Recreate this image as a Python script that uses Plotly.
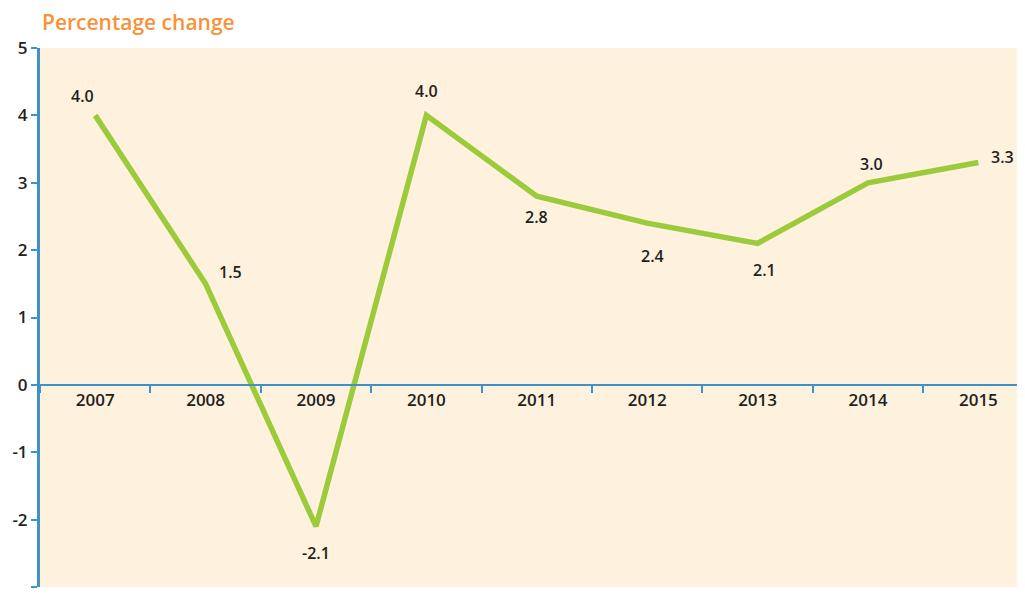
import plotly.graph_objects as go

years = ["2007", "2008", "2009", "2010", "2011", "2012", "2013", "2014", "2015"]
change = [4.0, 1.5, -2.1, 4.0, 2.8, 2.4, 2.1, 3.0, 3.3]
value_labels = ["4.0", "1.5", "-2.1", "4.0", "2.8", "2.4", "2.1", "3.0", "3.3"]
y_ticks = [-3, -2, -1, 0, 1, 2, 3, 4, 5]
y_tick_text = ["-3", "-2", "-1", "0", "1", "2", "3", "4", "5"]

# label offsets (px) relative to each point
label_dx = [-13, 25, 0, 0, 0, 5, 7, 4, 24]
label_dy = [19, 12, -27, 24, -21, -33, -27, 19, 6]

BLUE = "#3d93c8"
GREEN = "#9bcb3b"
TEXT = "#231f20"
FONT = "Open Sans"

fig = go.Figure()
fig.add_trace(go.Scatter(
    x=years, y=change, mode="lines",
    line=dict(color=GREEN, width=5.5),
    hoverinfo="x+y", showlegend=False,
))

for i, (v, t) in enumerate(zip(change, value_labels)):
    fig.add_annotation(x=i, y=v, text=t, showarrow=False,
                       xshift=label_dx[i], yshift=label_dy[i],
                       font=dict(family=FONT, size=16, color=TEXT, weight=600))

fig.add_annotation(xref="paper", yref="paper", x=0.0, y=1.0,
                   xanchor="left", yanchor="bottom", yshift=10, xshift=0,
                   text="Percentage change", showarrow=False,
                   font=dict(family=FONT, size=21, color="#f7923a", weight=600))

# page body has an 8px offset; figure runs past the right window edge
fig.update_layout(
    width=1030, height=586,
    margin=dict(l=32, r=0, t=40, b=7),
    paper_bgcolor="white",
    plot_bgcolor="#fef1de",
    font=dict(family=FONT, size=15, color=TEXT),
    xaxis=dict(
        type="category", range=[-0.5, 8.54],
        anchor="free", position=0.375, automargin=False,
        showline=True, linecolor=BLUE, linewidth=2,
        ticks="outside", tickson="boundaries", ticklen=7,
        tickcolor=BLUE, tickwidth=2, showgrid=False,
        tickfont=dict(family=FONT, size=17, color=TEXT, weight=600),
    ),
    yaxis=dict(
        range=[-3, 5], tickvals=y_ticks, ticktext=y_tick_text,
        automargin=False,
        showline=True, linecolor=BLUE, linewidth=3,
        ticks="outside", ticklen=6, tickcolor=BLUE, tickwidth=2,
        showgrid=False, zeroline=False,
        tickfont=dict(family=FONT, size=17, color=TEXT, weight=600),
    ),
)

fig.write_html("out.html")
